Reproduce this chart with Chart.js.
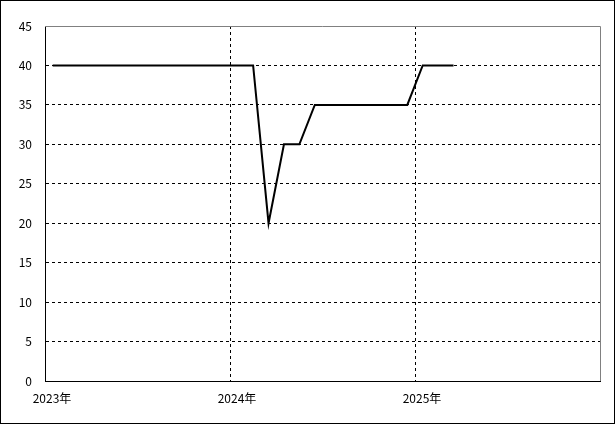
<!DOCTYPE html>
<html>
<head>
<meta charset="utf-8">
<script src="https://cdn.jsdelivr.net/npm/chart.js@4/dist/chart.umd.min.js"></script>
<style>
  html, body { margin: 0; padding: 0; background: #fff; }
  #wrap { width: 615px; height: 424px; position: relative; }
</style>
</head>
<body>
<div id="wrap"><canvas id="c" width="615" height="424"></canvas></div>
<script>
// ---- data ----
const months = [
  '2023-01','2023-02','2023-03','2023-04','2023-05','2023-06',
  '2023-07','2023-08','2023-09','2023-10','2023-11','2023-12',
  '2024-01','2024-02','2024-03','2024-04','2024-05','2024-06',
  '2024-07','2024-08','2024-09','2024-10','2024-11','2024-12',
  '2025-01','2025-02','2025-03'
];
const values = [
  40,40,40,40,40,40,40,40,40,40,40,40,
  40,40,20,30,30,35,35,35,35,35,35,35,
  40,40,40
];
const xTickLabels = ['2023年','2024年','2025年'];
const yTicks = [0,5,10,15,20,25,30,35,40,45];

// month index from start (mid-month positions)
const startYear = 2023;
function monthPos(s) {
  const [y, m] = s.split('-').map(Number);
  return (y - startYear) * 12 + (m - 1) + 0.5;
}
const points = months.map((m, i) => ({ x: monthPos(m), y: values[i] }));

const FONT = { family: '"Noto Sans CJK JP", "DejaVu Sans", sans-serif', size: 12 };

const framePlugin = {
  id: 'frame',
  afterDraw(chart) {
    const { ctx, chartArea: a } = chart;
    ctx.save();
    ctx.lineWidth = 1;
    // gray top and right borders of plot
    ctx.strokeStyle = '#808080';
    ctx.beginPath();
    ctx.moveTo(a.left, a.top + 0.5);
    ctx.lineTo(a.right + 0.5, a.top + 0.5);
    ctx.lineTo(a.right + 0.5, a.bottom);
    ctx.stroke();
    // outer black frame
    ctx.strokeStyle = '#000';
    ctx.strokeRect(0.5, 0.5, chart.width - 1, chart.height - 1);
    ctx.restore();
  }
};

new Chart(document.getElementById('c'), {
  type: 'line',
  data: {
    datasets: [{
      data: points,
      borderColor: '#000',
      borderWidth: 2,
      pointRadius: 0,
      tension: 0,
      fill: false
    }]
  },
  options: {
    responsive: false,
    animation: false,
    devicePixelRatio: 1,
    layout: { padding: { top: 26, right: 15, left: 0, bottom: 0 } },
    plugins: { legend: { display: false }, tooltip: { enabled: false } },
    scales: {
      x: {
        type: 'linear',
        min: 0,
        max: 36,
        afterBuildTicks(scale) {
          scale.ticks = xTickLabels.map((_, i) => ({ value: i * 12 }));
        },
        afterFit(scale) { scale.height = 43; },
        ticks: {
          callback: (v) => xTickLabels[Math.round(v / 12)] ?? '',
          color: '#000',
          font: FONT,
          padding: 10,
          labelOffset: 7,
          maxRotation: 0,
          autoSkip: false
        },
        grid: {
          drawTicks: false,
          color: (ctx) => (ctx.tick && (ctx.tick.value === 0 || ctx.tick.value === 36)) ? 'rgba(0,0,0,0)' : '#000',
          lineWidth: 1
        },
        border: { display: true, color: '#000', width: 1, dash: [3, 3] }
      },
      y: {
        min: 0,
        max: 45,
        afterBuildTicks(scale) {
          scale.ticks = yTicks.map(v => ({ value: v }));
        },
        afterFit(scale) { scale.width = 45; },
        ticks: {
          color: '#000',
          font: FONT,
          padding: 13
        },
        grid: {
          drawTicks: false,
          color: (ctx) => (ctx.tick && (ctx.tick.value === 0 || ctx.tick.value === 45)) ? 'rgba(0,0,0,0)' : '#000',
          lineWidth: 1
        },
        border: { display: true, color: '#000', width: 1, dash: [3, 3] }
      }
    }
  },
  plugins: [framePlugin]
});
</script>
</body>
</html>
